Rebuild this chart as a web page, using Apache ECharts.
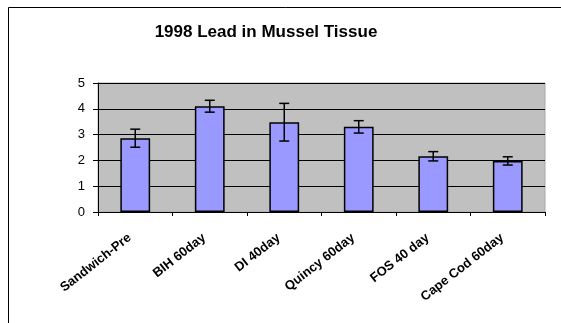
<!DOCTYPE html>
<html>
<head>
<meta charset="utf-8">
<script src="https://cdn.jsdelivr.net/npm/echarts@6/dist/echarts.min.js"></script>
<style>
  html, body { margin: 0; padding: 0; background: #fff; overflow: hidden; }
  #chart { width: 561px; height: 323px; }
</style>
</head>
<body>
<div id="chart"></div>
<script>
// Lead concentration in mussel tissue, 1998, by deployment site
const sites = ['Sandwich-Pre', 'BIH 60day', 'DI 40day', 'Quincy 60day', 'FOS 40 day', 'Cape Cod 60day'];
const leadMean = [2.86, 4.10, 3.48, 3.30, 2.16, 1.98];
const leadErr = [0.35, 0.23, 0.73, 0.24, 0.18, 0.16];
const yTicks = [0, 1, 2, 3, 4, 5];

const FONT = '"Liberation Sans", Arial, sans-serif';

const errorData = sites.map((s, i) => [i, leadMean[i] - leadErr[i], leadMean[i] + leadErr[i]]);

const chart = echarts.init(document.getElementById('chart'), null, { renderer: 'canvas' });
chart.setOption({
  backgroundColor: '#ffffff',
  animation: false,
  graphic: [
    {
      // chart frame: top and left edges (the rest runs off the page)
      type: 'polyline',
      shape: { points: [[8.5, 330], [8.5, 7.5], [570, 7.5]] },
      style: { fill: null, stroke: '#000', lineWidth: 1 },
      silent: true,
      z: 100
    },
    {
      type: 'text',
      x: 266,
      y: 32,
      style: {
        text: '1998 Lead in Mussel Tissue',
        fontFamily: FONT,
        fontSize: 17,
        fontWeight: 'bold',
        fill: '#000',
        align: 'center',
        verticalAlign: 'middle'
      },
      silent: true
    }
  ],
  grid: {
    left: 98, right: 16, top: 83, bottom: 111,
    show: true,
    backgroundColor: '#c0c0c0',
    borderColor: '#a8a8a8',
    borderWidth: 1
  },
  xAxis: {
    type: 'category',
    data: sites,
    axisLine: { show: true, lineStyle: { color: '#000', width: 1 } },
    axisTick: { show: true, length: 4, alignWithLabel: false, lineStyle: { color: '#000' } },
    axisLabel: {
      rotate: 38,
      margin: 20,
      interval: 0,
      padding: [0, 7, 0, 0],
      fontFamily: FONT,
      fontSize: 13,
      fontWeight: 'bold',
      color: '#000'
    }
  },
  yAxis: {
    type: 'value',
    min: yTicks[0],
    max: yTicks[yTicks.length - 1],
    interval: 1,
    axisLine: { show: true, lineStyle: { color: '#000', width: 1 } },
    axisTick: { show: true, length: 5, lineStyle: { color: '#000' } },
    axisLabel: {
      margin: 13,
      fontFamily: FONT,
      fontSize: 13,
      color: '#000'
    },
    splitLine: { show: true, lineStyle: { color: '#000', width: 1 } }
  },
  series: [
    {
      type: 'bar',
      data: leadMean,
      barWidth: '40%',
      itemStyle: { color: '#9999ff', borderColor: '#000', borderWidth: 1.5 },
      z: 2
    },
    {
      type: 'custom',
      data: errorData,
      z: 3,
      renderItem: function (params, api) {
        const x = api.value(0);
        const lo = api.coord([x, api.value(1)]);
        const hi = api.coord([x, api.value(2)]);
        const cap = 5;
        const style = { stroke: '#000', lineWidth: 1.5, fill: null };
        return {
          type: 'group',
          children: [
            { type: 'line', shape: { x1: hi[0], y1: hi[1], x2: lo[0], y2: lo[1] }, style: style },
            { type: 'line', shape: { x1: hi[0] - cap, y1: hi[1], x2: hi[0] + cap, y2: hi[1] }, style: style },
            { type: 'line', shape: { x1: lo[0] - cap, y1: lo[1], x2: lo[0] + cap, y2: lo[1] }, style: style }
          ]
        };
      }
    }
  ]
});
</script>
</body>
</html>
